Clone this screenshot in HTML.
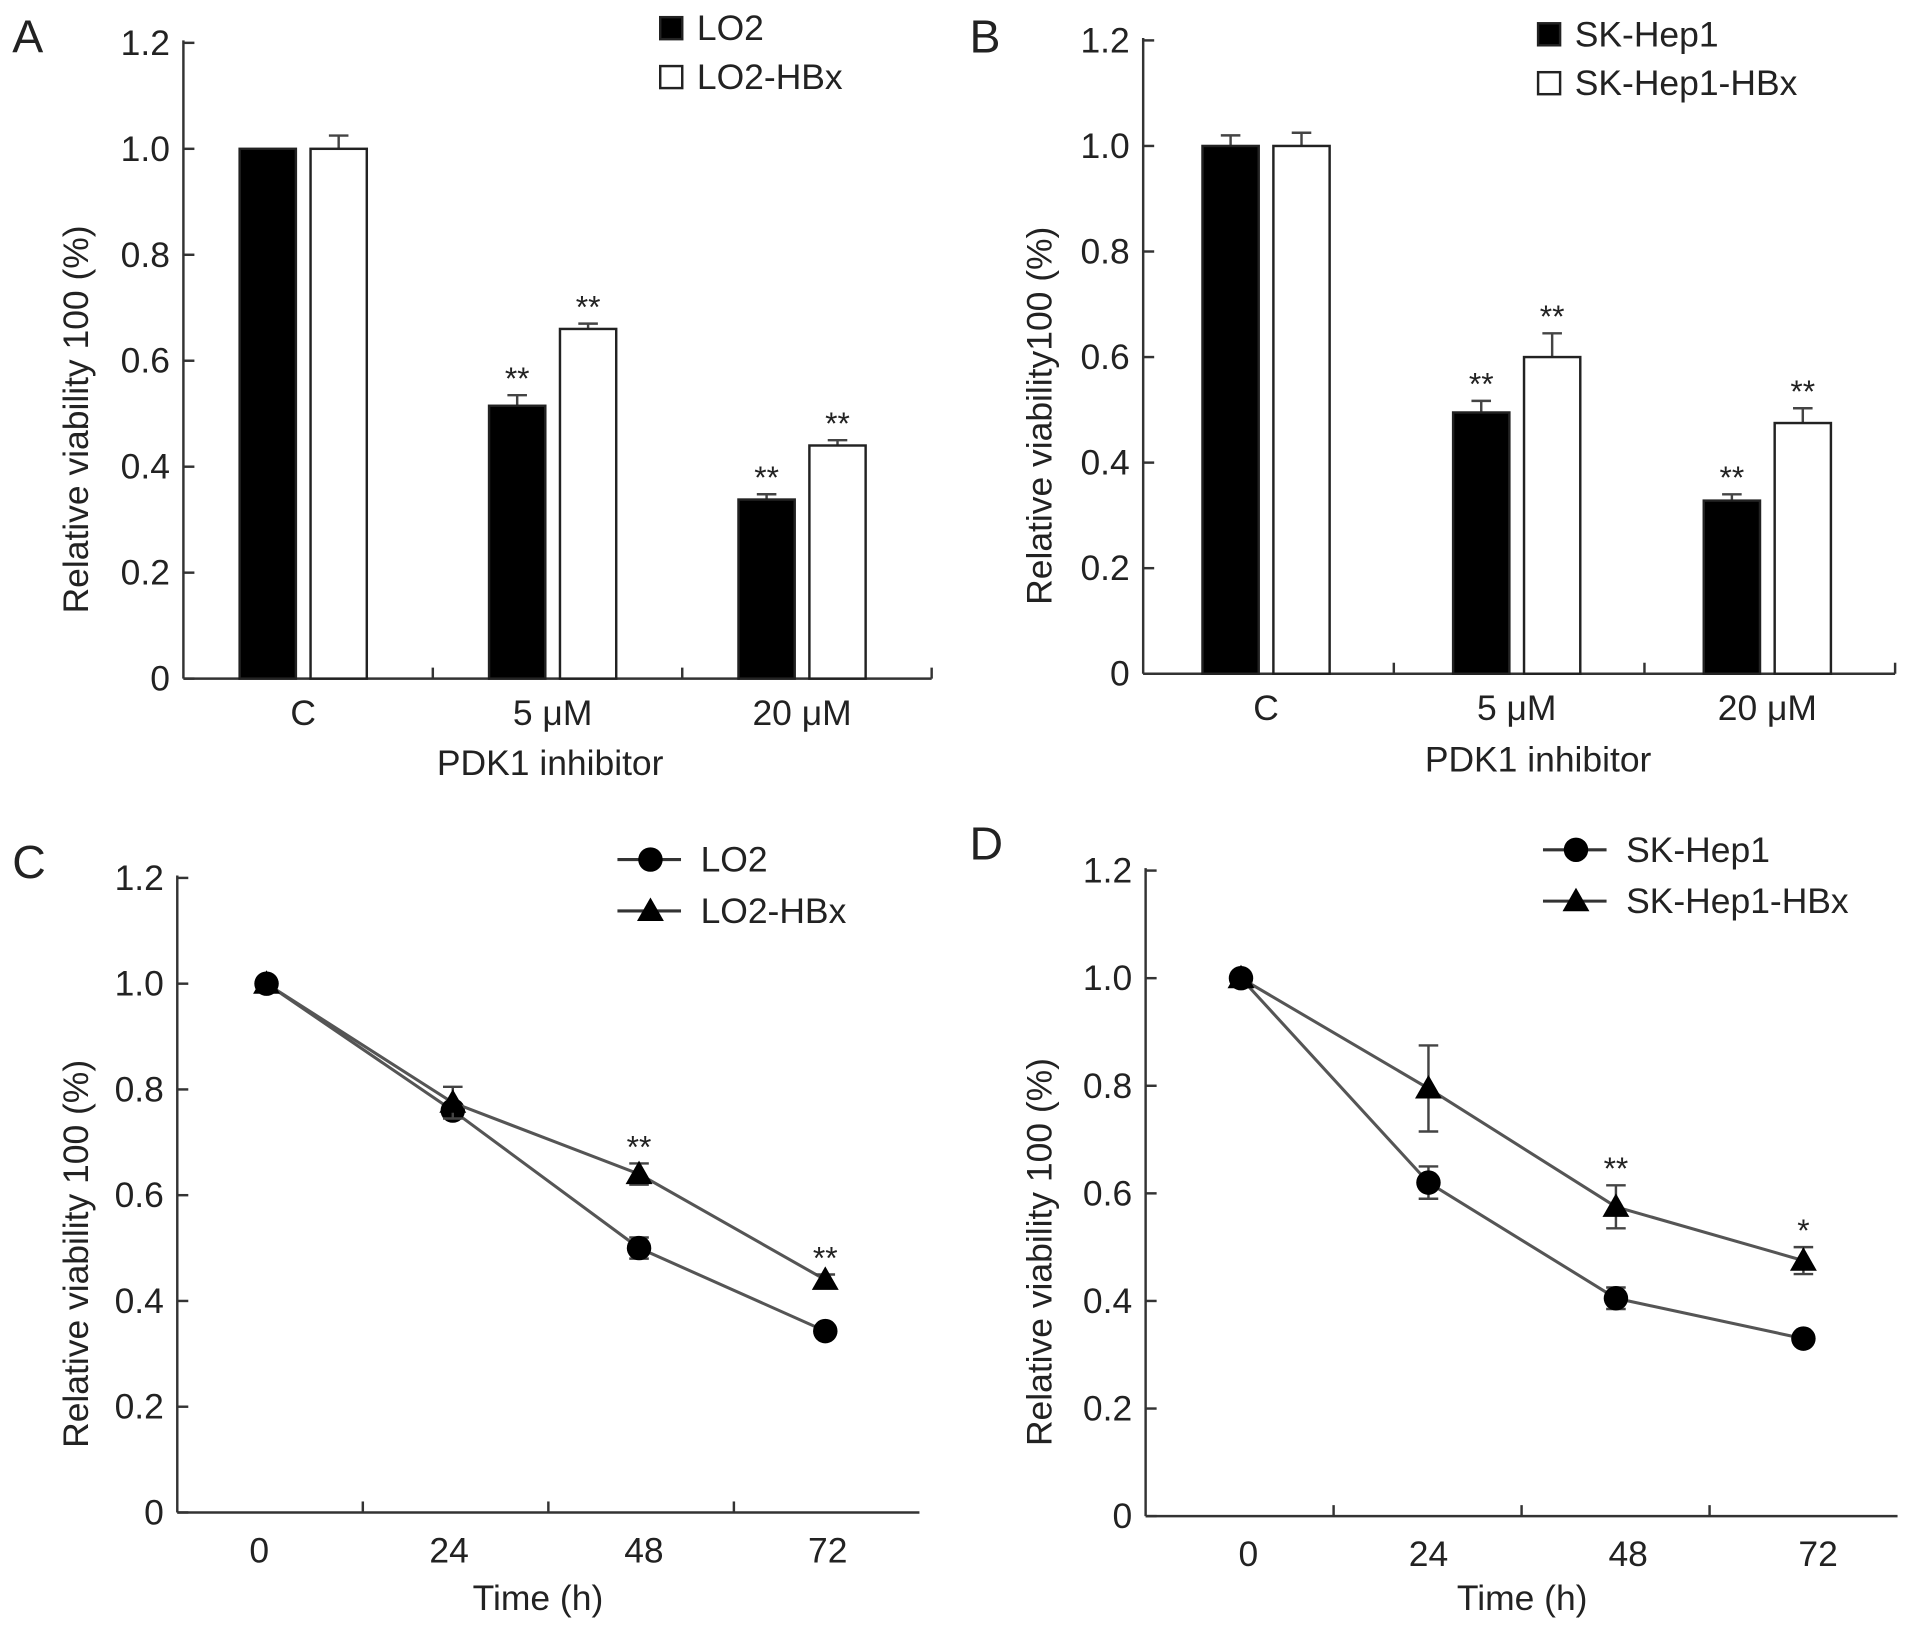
<!DOCTYPE html>
<html><head><meta charset="utf-8"><style>
html,body{margin:0;padding:0;background:#fff}
svg{display:block}
text{font-family:"Liberation Sans",Arial,sans-serif;fill:#222}
</style></head><body>
<svg id="fig" width="1911" height="1625" viewBox="0 0 1563 1329" xmlns="http://www.w3.org/2000/svg"></svg>
<script>
// ---- data ----
const yTicks = [0, 0.2, 0.4, 0.6, 0.8, 1.0, 1.2];
const yTickLabels = ["0", "0.2", "0.4", "0.6", "0.8", "1.0", "1.2"];
const barCats = ["C", "5 \u03bcM", "20 \u03bcM"];
const aLO2 = [1.0, 0.515, 0.338];
const aLO2Err = [0.0, 0.02, 0.01];
const aHBx = [1.0, 0.66, 0.44];
const aHBxErr = [0.025, 0.01, 0.01];
const aLO2Sig = ["", "**", "**"];
const aHBxSig = ["", "**", "**"];
const bSK = [1.0, 0.495, 0.328];
const bSKErr = [0.02, 0.022, 0.012];
const bHBx = [1.0, 0.6, 0.475];
const bHBxErr = [0.025, 0.045, 0.028];
const bSKSig = ["", "**", "**"];
const bHBxSig = ["", "**", "**"];
const times = [0, 24, 48, 72];
const timeLabels = ["0", "24", "48", "72"];
const cLO2 = [1.0, 0.76, 0.5, 0.343];
const cLO2Err = [0.0, 0.01, 0.02, 0.01];
const cHBx = [1.0, 0.775, 0.64, 0.44];
const cHBxErr = [0.0, 0.03, 0.02, 0.01];
const cSig = ["", "", "**", "**"];
const dSK = [1.0, 0.62, 0.405, 0.33];
const dSKErr = [0.0, 0.03, 0.02, 0.01];
const dHBx = [1.0, 0.795, 0.575, 0.475];
const dHBxErr = [0.0, 0.08, 0.04, 0.025];
const dSig = ["", "", "**", "*"];

const FS = 29;
const svg = document.getElementById('fig');
const NS = 'http://www.w3.org/2000/svg';
function el(tag, attrs, parent) {
  const e = document.createElementNS(NS, tag);
  for (const k in attrs) e.setAttribute(k, attrs[k]);
  (parent || svg).appendChild(e);
  return e;
}
function txt(x, y, s, size, anchor, parent) {
  const t = el('text', {x: x, y: y, 'font-size': size, 'text-anchor': anchor || 'middle', 'dominant-baseline': 'central'}, parent);
  t.textContent = s;
  return t;
}

function axes(g, P, xTickPos) {
  const ys = v => P.y0 - (v / 1.2) * (P.y0 - P.y1);
  const ya = el('line', {x1: P.x0, y1: P.y1 - 2, x2: P.x0, y2: P.y0, stroke: '#333', 'stroke-width': 2}, g);
  
  
  const xa = el('line', {x1: P.x0, y1: P.y0, x2: P.x1, y2: P.y0, stroke: '#333', 'stroke-width': 2}, g);
  
  
  yTicks.forEach((v, i) => {
    const y = ys(v);
    el('line', {x1: P.x0, y1: y, x2: P.x0 + 9, y2: y, stroke: '#333', 'stroke-width': 2}, g);
    const t = txt(P.x0 - 11, y, yTickLabels[i], FS, 'end', g);
    
    
  });
  xTickPos.forEach(x => el('line', {x1: x, y1: P.y0, x2: x, y2: P.y0 - 9, stroke: '#333', 'stroke-width': 2}, g));
  const yt = txt(0, 0, P.ytitle, FS, 'middle', g);
  yt.setAttribute('transform', 'translate(' + P.ytx + ',' + ((P.y0 + P.y1) / 2 + 48) + ') rotate(-90)');
  
  
  const xt = txt(P.xtx, P.xty, P.xtitle, FS, 'middle', g);
  
  
  const lb = txt(P.lx, P.ly, P.letter, 38, 'start', g);
  
  
  return ys;
}

function barPanel(P, s1, e1, g1, s2, e2, g2, names) {
  const g = el('g', {});
  
  
  const cw = (P.x1 - P.x0) / barCats.length;
  const ticks = barCats.map((c, i) => P.x0 + cw * (i + 1));
  const ys = axes(g, P, ticks);
  const bw = 46, gap = 12;
  barCats.forEach((c, i) => {
    const cx = P.x0 + cw * i + cw / 2 + P.off;
    const t = txt(cx, P.y0 + 28, c, FS, 'middle', g);
    
    
    [[s1, e1, g1, '#000', cx - gap / 2 - bw], [s2, e2, g2, '#fff', cx + gap / 2]].forEach((S, k) => {
      const v = S[0][i], err = S[1][i], x = S[4];
      const y = ys(v);
      if (err > 0) {
        el('line', {x1: x + bw / 2, y1: y, x2: x + bw / 2, y2: ys(v + err), stroke: '#444', 'stroke-width': 2}, g);
        el('line', {x1: x + bw / 2 - 8, y1: ys(v + err), x2: x + bw / 2 + 8, y2: ys(v + err), stroke: '#444', 'stroke-width': 2}, g);
      }
      const r = el('rect', {x: x, y: y, width: bw, height: P.y0 - y, fill: S[3], stroke: '#222', 'stroke-width': 2}, g);
      
      
      if (S[2][i]) {
        const st = txt(x + bw / 2, ys(v + err) - 14, S[2][i], 26, 'middle', g);
        
        
      }
    });
  });
  names.forEach((n, k) => {
    const ly = P.legY + k * 40;
    const sq = el('rect', {x: P.legX, y: ly - 9, width: 18, height: 18, fill: k === 0 ? '#000' : '#fff', stroke: '#222', 'stroke-width': 2}, g);
    
    
    const t = txt(P.legX + 30, ly, n, FS, 'start', g);
    
    
  });
}

function tri(g, x, y, s) {
  return el('polygon', {points: (x) + ',' + (y - s) + ' ' + (x - s) + ',' + (y + s * 0.75) + ' ' + (x + s) + ',' + (y + s * 0.75), fill: '#000'}, g);
}

function linePanel(P, s1, e1, s2, e2, sig, names) {
  const g = el('g', {});
  
  
  const cw = (P.x1 - P.x0) / 4;
  const ticks = [1, 2, 3].map(i => P.x0 + cw * i);
  const ys = axes(g, P, ticks);
  const xs = t => P.px0 + (t / 72) * (P.px1 - P.px0);
  times.forEach((t, i) => {
    const l = txt(xs(t) + P.lo[i], P.y0 + 31, timeLabels[i], FS, 'middle', g);
    
    
  });
  [[s1, e1, 'circle'], [s2, e2, 'tri']].forEach(S => {
    const pts = times.map((t, i) => xs(t) + ',' + ys(S[0][i])).join(' ');
    const pl = el('polyline', {points: pts, fill: 'none', stroke: '#555', 'stroke-width': 2.5}, g);
    
    
    times.forEach((t, i) => {
      const x = xs(t), v = S[0][i], err = S[1][i];
      if (err > 0) {
        el('line', {x1: x, y1: ys(v - err), x2: x, y2: ys(v + err), stroke: '#444', 'stroke-width': 2}, g);
        [v - err, v + err].forEach(w => el('line', {x1: x - 8, y1: ys(w), x2: x + 8, y2: ys(w), stroke: '#444', 'stroke-width': 2}, g));
      }
      let m;
      if (S[2] === 'circle') m = el('circle', {cx: x, cy: ys(v), r: 10, fill: '#000'}, g);
      else m = tri(g, x, ys(v), 11);
      
      
      if (S[2] === 'tri' && sig[i]) {
        const st = txt(x, ys(v + err) - 14, sig[i], 26, 'middle', g);
        
        
      }
    });
  });
  names.forEach((n, k) => {
    const ly = P.legY + k * 42;
    el('line', {x1: P.legX, y1: ly, x2: P.legX + 52, y2: ly, stroke: '#333', 'stroke-width': 2.5}, g);
    const m = k === 0 ? el('circle', {cx: P.legX + 27, cy: ly, r: 10, fill: '#000'}, g) : tri(g, P.legX + 27, ly, 11);
    
    
    const t = txt(P.legX + 68, ly, n, FS, 'start', g);
    
    
  });
}

barPanel({name: 'panel-a', x0: 150, x1: 762, y0: 555, y1: 35, off: -4, ytitle: 'Relative viability 100 (%)', ytx: 62, xtitle: 'PDK1 inhibitor', xtx: 450, xty: 624, letter: 'A', lx: 10, ly: 30, legX: 540, legY: 23},
  aLO2, aLO2Err, aLO2Sig, aHBx, aHBxErr, aHBxSig, ['LO2', 'LO2-HBx']);
barPanel({name: 'panel-b', x0: 935, x1: 1550, y0: 551, y1: 33, off: -2, ytitle: 'Relative viability100 (%)', ytx: 850, xtitle: 'PDK1 inhibitor', xtx: 1258, xty: 621, letter: 'B', lx: 793, ly: 30, legX: 1258, legY: 28},
  bSK, bSKErr, bSKSig, bHBx, bHBxErr, bHBxSig, ['SK-Hep1', 'SK-Hep1-HBx']);
linePanel({name: 'panel-c', x0: 145, x1: 752, y0: 1237, y1: 718, px0: 218, px1: 675, lo: [-6, -3, 4, 2], ytitle: 'Relative viability 100 (%)', ytx: 62, xtitle: 'Time (h)', xtx: 440, xty: 1307, letter: 'C', lx: 10, ly: 705, legX: 505, legY: 703},
  cLO2, cLO2Err, cHBx, cHBxErr, cSig, ['LO2', 'LO2-HBx']);
linePanel({name: 'panel-d', x0: 937, x1: 1552, y0: 1240, y1: 712, px0: 1015, px1: 1475, lo: [6, 0, 10, 12], ytitle: 'Relative viability  100 (%)', ytx: 850, xtitle: 'Time (h)', xtx: 1245, xty: 1307, letter: 'D', lx: 793, ly: 690, legX: 1262, legY: 695},
  dSK, dSKErr, dHBx, dHBxErr, dSig, ['SK-Hep1', 'SK-Hep1-HBx']);
</script>
</body></html>
